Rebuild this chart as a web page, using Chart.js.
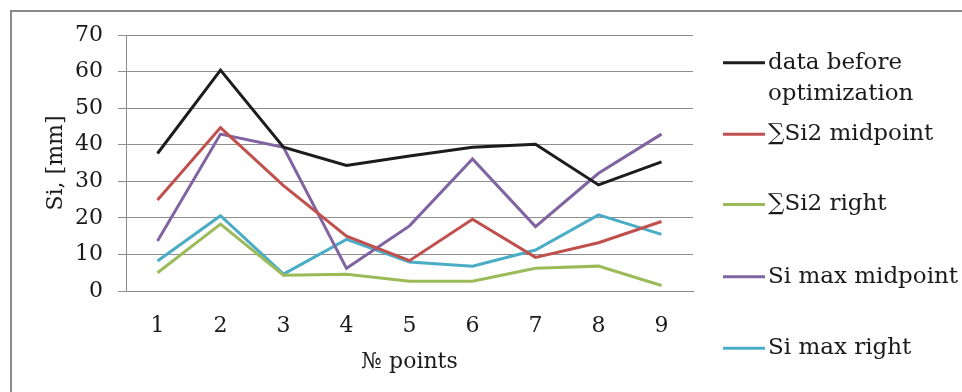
<!DOCTYPE html>
<html>
<head>
<meta charset="utf-8">
<script src="https://cdn.jsdelivr.net/npm/chart.js@4/dist/chart.umd.min.js"></script>
<style>
html,body{margin:0;padding:0;background:#fff;}
#wrap{width:962px;height:392px;position:relative;}
</style>
</head>
<body>
<div id="wrap"><canvas id="c" width="962" height="392"></canvas></div>
<script>
const categories = ['1','2','3','4','5','6','7','8','9'];
const seriesNames = [['data before','optimization'], '\u2211Si2 midpoint', '\u2211Si2 right', 'Si max midpoint', 'Si max right'];
const dataBefore   = [37.6, 60.4, 39.3, 34.3, 36.9, 39.3, 40.1, 29.0, 35.3];
const si2Midpoint  = [24.9, 44.7, 28.8, 15.0, 8.3, 19.6, 9.2, 13.2, 19.0];
const si2Right     = [5.0, 18.3, 4.3, 4.6, 2.7, 2.7, 6.2, 6.8, 1.5];
const siMaxMid     = [13.7, 42.9, 39.3, 6.2, 17.8, 36.1, 17.6, 32.2, 42.9];
const siMaxRight   = [8.2, 20.6, 4.6, 14.1, 7.9, 6.8, 11.2, 20.8, 15.5];
const yTicks = [0, 10, 20, 30, 40, 50, 60, 70];
const colors = ['#1c1c1c', '#c0504d', '#9bbb59', '#8064a2', '#4bacc6'];
const values = [dataBefore, si2Midpoint, si2Right, siMaxMid, siMaxRight];
const legendY = [62.7, 134.3, 204.5, 276.7, 348.3];

const FONT = 'DejaVu Serif';

const frame = {
  id: 'frame',
  beforeDraw(chart) {
    const ctx = chart.ctx;
    ctx.save();
    ctx.fillStyle = '#fff';
    ctx.fillRect(0, 0, chart.width, chart.height);
    ctx.strokeStyle = '#8a8a8a';
    ctx.lineWidth = 2;
    ctx.beginPath();
    ctx.moveTo(11, chart.height + 5);
    ctx.lineTo(11, 11);
    ctx.lineTo(chart.width + 5, 11);
    ctx.stroke();
    ctx.restore();
  }
};

const sideLegend = {
  id: 'sideLegend',
  afterDraw(chart) {
    const ctx = chart.ctx;
    ctx.save();
    ctx.font = '23px "' + FONT + '"';
    ctx.textBaseline = 'middle';
    ctx.textAlign = 'left';
    chart.data.datasets.forEach((ds, i) => {
      const y = legendY[i];
      ctx.strokeStyle = ds.borderColor;
      ctx.lineWidth = 3;
      ctx.beginPath();
      ctx.moveTo(723, y);
      ctx.lineTo(765, y);
      ctx.stroke();
      ctx.fillStyle = '#1a1a1a';
      const lines = Array.isArray(ds.label) ? ds.label : [ds.label];
      lines.forEach((t, k) => ctx.fillText(t, 768, y + k * 31));
    });
    ctx.restore();
  }
};

new Chart(document.getElementById('c'), {
  type: 'line',
  data: {
    labels: categories,
    datasets: values.map((v, i) => ({
      label: seriesNames[i],
      data: v,
      borderColor: colors[i],
      backgroundColor: colors[i],
      borderWidth: 3,
      pointRadius: 0,
      tension: 0,
      fill: false
    }))
  },
  options: {
    responsive: false,
    animation: false,
    layout: { padding: { left: 0, right: 269, top: 35, bottom: 0 } },
    plugins: { legend: { display: false }, tooltip: { enabled: false } },
    scales: {
      x: {
        offset: true,
        grid: { display: false, drawTicks: false },
        border: { display: true, color: '#8a8a8a', width: 1 },
        ticks: { font: { family: FONT, size: 22 }, color: '#1a1a1a', padding: 22, maxRotation: 0 },
        title: { display: true, text: '\u2116 points', font: { family: FONT, size: 22 }, color: '#1a1a1a', padding: { top: 0, bottom: 17 } },
        afterFit(scale) { scale.height = 101; }
      },
      y: {
        min: 0, max: 70,
        afterBuildTicks(scale) { scale.ticks = yTicks.map(v => ({ value: v })); },
        grid: { color: '#8e8e8e', lineWidth: 1, tickLength: 8, drawTicks: true },
        border: { display: true, color: '#8e8e8e', width: 1 },
        ticks: { font: { family: FONT, size: 22 }, color: '#1a1a1a', padding: 15 },
        title: { display: true, text: 'Si, [mm]', font: { family: FONT, size: 22 }, color: '#1a1a1a', padding: { top: 43, bottom: 0 } },
        afterFit(scale) { scale.width = 126; }
      }
    }
  },
  plugins: [frame, sideLegend]
});
</script>
</body>
</html>
